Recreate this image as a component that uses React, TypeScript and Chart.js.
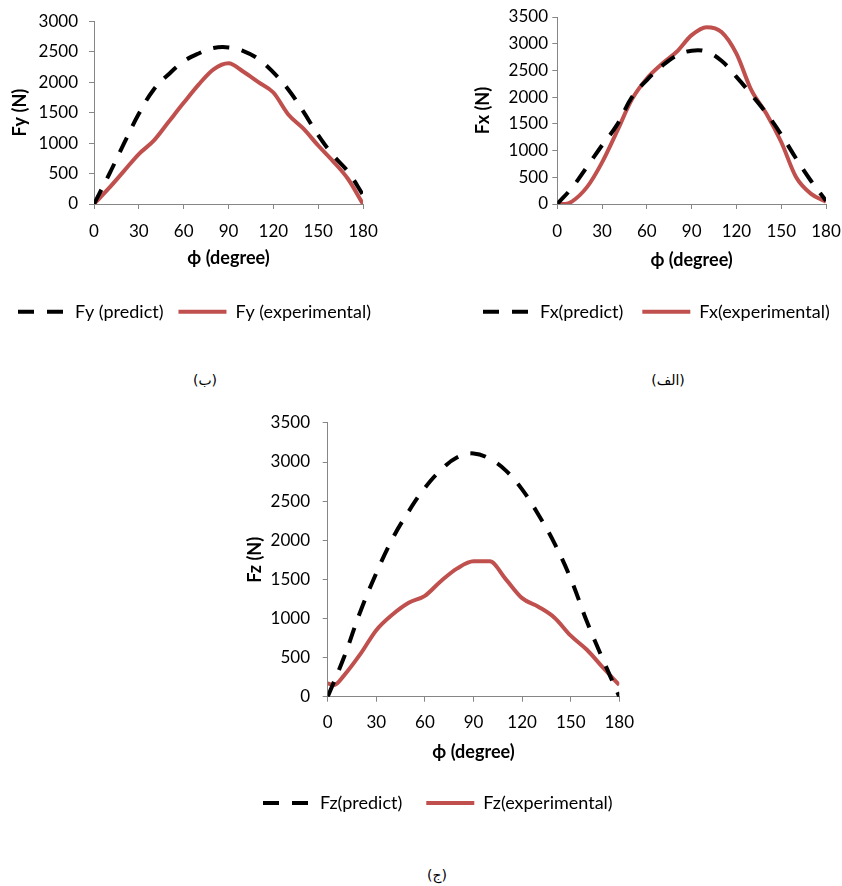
import React, { useEffect, useRef } from "react";
import { Chart, registerables } from "chart.js";

Chart.register(...registerables);

// ---------- data ----------
const PHI = [0, 10, 20, 30, 40, 50, 60, 70, 80, 90, 100, 110, 120, 130, 140, 150, 160, 170, 180];

const FY_PREDICT = [0, 480, 990, 1480, 1880, 2130, 2340, 2470, 2560, 2570, 2510, 2380, 2160, 1880, 1520, 1130, 800, 530, 150];
const FY_EXP = [0, 260, 540, 820, 1040, 1350, 1660, 1960, 2210, 2310, 2170, 2000, 1830, 1470, 1240, 960, 700, 410, 0];

const FX_PREDICT = [0, 310, 700, 1100, 1480, 2000, 2320, 2580, 2780, 2870, 2850, 2680, 2380, 2050, 1700, 1300, 850, 430, 60];
const FX_EXP_PHI = [0, 5, 10, 20, 30, 40, 50, 60, 70, 80, 90, 100, 110, 120, 130, 140, 150, 160, 170, 180];
const FX_EXP = [0, 0, 50, 320, 780, 1360, 1960, 2350, 2620, 2850, 3160, 3310, 3220, 2815, 2130, 1694, 1160, 500, 190, 44];

const FZ_PREDICT = [0, 500, 1080, 1580, 2020, 2370, 2670, 2900, 3060, 3110, 3040, 2890, 2650, 2330, 1960, 1510, 960, 470, 0];
const FZ_EXP_PHI = [0, 4, 10, 20, 30, 40, 50, 60, 70, 80, 90, 100, 110, 120, 130, 140, 150, 160, 170, 180];
const FZ_EXP = [170, 150, 270, 540, 850, 1050, 1200, 1290, 1480, 1640, 1730, 1730, 1500, 1260, 1150, 1010, 780, 600, 370, 150];

const X_TITLE = "ϕ (degree)";
const CAPTIONS = ["(ب)", "(الف)", "(ج)"];

// ---------- layout per panel ----------
type Panel = {
  left: number; top: number; w: number; h: number;
  yTitle: string; yMax: number;
  predictLabel: string; expLabel: string;
  predictPhi: number[]; predict: number[];
  expPhi: number[]; exp: number[];
  pl: number; pt: number; pb: number;
  yw: number; ytp: number; ytt: number;
  hx: number; xtp: number; xtb: number;
  rw: number; gap: number;
};

const PANELS: Panel[] = [
  {
    left: 0, top: 0, w: 420, h: 360,
    yTitle: "Fy (N)", yMax: 3000,
    predictLabel: "Fy (predict)", expLabel: "Fy (experimental)",
    predictPhi: PHI, predict: FY_PREDICT, expPhi: PHI, exp: FY_EXP,
    pl: 3, pt: 17, pb: 29.3,
    yw: 91, ytp: 11, ytt: 6.2,
    hx: 83.7, xtp: 12, xtb: 18.9,
    rw: 57, gap: 15,
  },
  {
    left: 420, top: 0, w: 460, h: 360,
    yTitle: "Fx (N)", yMax: 3500,
    predictLabel: "Fx(predict)", expLabel: "Fx(experimental)",
    predictPhi: PHI, predict: FX_PREDICT, expPhi: FX_EXP_PHI, exp: FX_EXP,
    pl: 44, pt: 17, pb: 29.3,
    yw: 93.3, ytp: 4.3, ytt: 8.2,
    hx: 79.7, xtp: 12, xtb: 12.9,
    rw: 54, gap: 19,
  },
  {
    left: 230, top: 400, w: 480, h: 440,
    yTitle: "Fz (N)", yMax: 3500,
    predictLabel: "Fz(predict)", expLabel: "Fz(experimental)",
    predictPhi: PHI, predict: FZ_PREDICT, expPhi: FZ_EXP_PHI, exp: FZ_EXP,
    pl: 9, pt: 16.7, pb: 18,
    yw: 88.7, ytp: 12.7, ytt: 5.2,
    hx: 73.3, xtp: 11, xtb: 7.5,
    rw: 90.7, gap: 24,
  },
];

const AXIS_GRAY = "#868686";
const RED = "#C0504D";
const FONT = "Lato, 'Open Sans', sans-serif";

function zip(xs: number[], ys: number[]) {
  return xs.map((x, i) => ({ x, y: ys[i] }));
}

function makeConfig(p: Panel): any {
  return {
    type: "line",
    data: {
      datasets: [
        {
          label: p.predictLabel,
          data: zip(p.predictPhi, p.predict),
          borderColor: "#000",
          backgroundColor: "#000",
          borderWidth: 4,
          borderDash: [16, 13],
          pointRadius: 0,
          tension: 0.4,
          fill: false,
        },
        {
          label: p.expLabel,
          data: zip(p.expPhi, p.exp),
          borderColor: RED,
          backgroundColor: RED,
          borderWidth: 4,
          pointRadius: 0,
          cubicInterpolationMode: "monotone",
          fill: false,
        },
      ],
    },
    options: {
      animation: false,
      responsive: false,
      events: [],
      layout: { padding: { left: p.pl, top: p.pt, right: 0, bottom: p.pb } },
      plugins: {
        legend: {
          position: "bottom",
          align: "start",
          labels: {
            usePointStyle: true,
            pointStyle: "line",
            pointStyleWidth: 48,
            padding: p.gap,
            color: "#000",
            font: { family: FONT, size: 18 },
            generateLabels: (chart: any) => {
              const items = (Chart.defaults as any).plugins.legend.labels.generateLabels(chart);
              return items.map((it: any) => {
                const ds = chart.data.datasets[it.datasetIndex];
                return {
                  ...it,
                  pointStyle: "line",
                  lineDash: ds.borderDash || [],
                  lineWidth: ds.borderWidth,
                  strokeStyle: ds.borderColor,
                  fillStyle: ds.borderColor,
                  lineCap: "butt",
                };
              });
            },
          },
        },
        tooltip: { enabled: false },
      },
      scales: {
        x: {
          type: "linear",
          min: 0,
          max: 180,
          ticks: {
            stepSize: 30,
            padding: p.xtp,
            color: "#000",
            font: { family: FONT, size: 17 },
            callback: (v: any) => String(v),
          },
          grid: { display: true, drawOnChartArea: false, drawTicks: true, tickLength: 5, color: AXIS_GRAY },
          border: { color: AXIS_GRAY, width: 1 },
          title: {
            display: true,
            text: X_TITLE,
            color: "#000",
            font: { family: FONT, size: 18, weight: "bold" },
            padding: { top: 0, bottom: p.xtb },
          },
          afterFit: (s: any) => { s.height = p.hx; },
        },
        y: {
          type: "linear",
          position: "left",
          min: 0,
          max: p.yMax,
          ticks: {
            stepSize: 500,
            padding: p.ytp,
            color: "#000",
            font: { family: FONT, size: 17 },
            callback: (v: any) => String(v),
          },
          grid: { display: true, drawOnChartArea: false, drawTicks: true, tickLength: 5, color: AXIS_GRAY },
          border: { color: AXIS_GRAY, width: 1 },
          title: {
            display: true,
            text: p.yTitle,
            color: "#000",
            font: { family: FONT, size: 18, weight: "bold" },
            padding: { top: p.ytt, bottom: 0 },
          },
          afterFit: (s: any) => { s.width = p.yw; },
        },
        yr: {
          type: "linear",
          position: "right",
          display: true,
          grid: { display: false },
          border: { display: false },
          ticks: { display: false },
          afterFit: (s: any) => { s.width = p.rw; },
        },
      },
    },
  };
}

function PanelChart({ p }: { p: Panel }) {
  const ref = useRef<HTMLCanvasElement | null>(null);
  useEffect(() => {
    if (!ref.current) return;
    const chart = new Chart(ref.current, makeConfig(p));
    return () => chart.destroy();
  }, [p]);
  return (
    <canvas
      ref={ref}
      width={p.w}
      height={p.h}
      style={{ position: "absolute", left: p.left, top: p.top, width: p.w, height: p.h }}
    />
  );
}

const CAPTION_POS = [
  { x: 205, y: 380 },
  { x: 668, y: 380 },
  { x: 437, y: 875 },
];

export default function App() {
  return (
    <div
      style={{
        position: "absolute",
        left: 0,
        top: 0,
        width: 842,
        height: 886,
        overflow: "hidden",
        background: "#fff",
      }}
    >
      {PANELS.map((p, i) => (
        <PanelChart key={i} p={p} />
      ))}
      {CAPTIONS.map((c, i) => (
        <div
          key={"c" + i}
          dir="rtl"
          style={{
            position: "absolute",
            left: CAPTION_POS[i].x - 40,
            top: CAPTION_POS[i].y - 11,
            width: 80,
            height: 22,
            lineHeight: "22px",
            textAlign: "center",
            fontFamily: "'DejaVu Sans', 'Liberation Serif', serif",
            fontSize: 14,
            color: "#000",
          }}
        >
          {c}
        </div>
      ))}
    </div>
  );
}
